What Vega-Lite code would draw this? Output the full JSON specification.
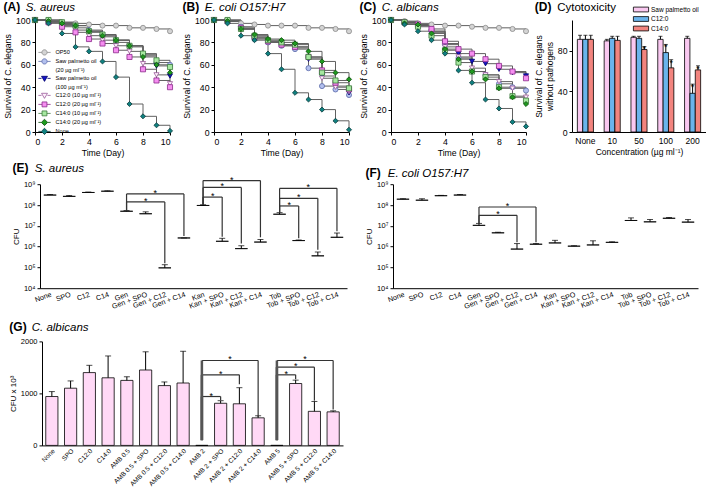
{
  "$schema": "https://vega.github.io/schema/vega-lite/v6.json",
  "padding": {"top": 1, "left": 0, "right": 0, "bottom": 16},
  "spacing": -3.8,
  "resolve": {
    "scale": {"x": "independent", "y": "independent", "fill": "independent", "stroke": "independent", "shape": "independent", "color": "independent", "xOffset": "independent"},
    "legend": {"fill": "independent", "stroke": "independent", "shape": "independent", "color": "independent"}
  },
  "config": {
    "view": {"stroke": null},
    "font": "Liberation Sans",
    "axis": {"domainColor": "#000", "tickColor": "#000", "labelColor": "#000", "titleColor": "#000", "grid": false, "labelFont": "Liberation Sans", "titleFont": "Liberation Sans", "titleFontWeight": "normal", "tickSize": 3, "labelPadding": 2, "titlePadding": 3, "domainWidth": 1, "tickWidth": 1},
    "legend": {"labelFont": "Liberation Sans", "labelColor": "#000"},
    "title": {"font": "Liberation Sans", "color": "#000", "anchor": "start", "frame": "bounds", "fontSize": 12, "fontWeight": "bold", "subtitleFont": "Liberation Sans", "subtitleColor": "#000", "subtitleFontSize": 11.5, "subtitleFontStyle": "italic", "subtitlePadding": -12, "offset": 1}
  },
  "datasets": {
    "surv": [
      {"p": "A", "s": "OP50", "d": [0,1,2,3,4,5,6,7,8,9,10], "v": [100,100,98,97,96,95,95,93,93,92,90]},
      {"p": "A", "s": "SPO20", "d": [0,1,2,3,4,5,6,7,8,9,10], "v": [100,99,97,95,91,87,82,77,69,62,60]},
      {"p": "A", "s": "SPO100", "d": [0,1,2,3,4,5,6,7,8,9,10], "v": [100,99,96,93,89,85,80,76,68,59,50]},
      {"p": "A", "s": "C12a", "d": [0,1,2,3,4,5,6,7,8,9,10], "v": [100,98,95,91,86,82,77,72,61,51,43]},
      {"p": "A", "s": "C12b", "d": [0,1,2,3,4,5,6,7,8,9,10], "v": [100,98,94,89,83,79,73,67,56,46,40]},
      {"p": "A", "s": "C14a", "d": [0,1,2,3,4,5,6,7,8,9,10], "v": [100,100,98,95,90,87,82,77,70,64,58]},
      {"p": "A", "s": "C14b", "d": [0,1,2,3,4,5,6,7,8,9,10], "v": [100,99,97,95,90,86,82,77,67,60,53]},
      {"p": "A", "s": "None", "d": [0,1,2,3,4,5,6,7,8,9,10], "v": [100,97,88,76,72,63,49,25,14,6,1]},
      {"p": "B", "s": "OP50", "d": [0,1,2,3,4,5,6,7,8,9,10], "v": [100,100,97,96,95,95,95,93,93,92,90]},
      {"p": "B", "s": "SPO20", "d": [0,1,2,3,4,5,6,7,8,9,10], "v": [100,99,94,83,80,77,74,57,41,38,33]},
      {"p": "B", "s": "SPO100", "d": [0,1,2,3,4,5,6,7,8,9,10], "v": [100,99,92,84,81,78,76,65,50,41,35]},
      {"p": "B", "s": "C12a", "d": [0,1,2,3,4,5,6,7,8,9,10], "v": [100,99,92,84,80,77,75,66,48,40,36]},
      {"p": "B", "s": "C12b", "d": [0,1,2,3,4,5,6,7,8,9,10], "v": [100,99,93,85,81,78,76,67,55,44,38]},
      {"p": "B", "s": "C14a", "d": [0,1,2,3,4,5,6,7,8,9,10], "v": [100,100,92,86,82,80,78,67,53,46,39]},
      {"p": "B", "s": "C14b", "d": [0,1,2,3,4,5,6,7,8,9,10], "v": [100,99,92,87,83,82,79,72,63,53,47]},
      {"p": "B", "s": "None", "d": [0,1,2,3,4,5,6,7,8,9,10], "v": [100,97,86,82,70,56,35,29,20,10,2]},
      {"p": "C", "s": "OP50", "d": [0,1,2,3,4,5,6,7,8,9,10], "v": [100,99,97,96,95,95,94,93,93,92,90]},
      {"p": "C", "s": "SPO20", "d": [0,1,2,3,4,5,6,7,8,9,10], "v": [100,98,95,90,78,66,54,51,43,40,37]},
      {"p": "C", "s": "SPO100", "d": [0,1,2,3,4,5,6,7,8,9,10], "v": [100,98,95,90,79,70,63,61,56,53,50]},
      {"p": "C", "s": "C12a", "d": [0,1,2,3,4,5,6,7,8,9,10], "v": [100,98,95,89,76,67,57,51,45,39,31]},
      {"p": "C", "s": "C12b", "d": [0,1,2,3,4,5,6,7,8,9,10], "v": [100,98,96,92,81,74,70,65,59,54,48]},
      {"p": "C", "s": "C14a", "d": [0,1,2,3,4,5,6,7,8,9,10], "v": [100,98,94,86,73,62,54,49,40,32,28]},
      {"p": "C", "s": "C14b", "d": [0,1,2,3,4,5,6,7,8,9,10], "v": [100,97,96,88,74,65,54,47,39,31,25]},
      {"p": "C", "s": "None", "d": [0,1,2,3,4,5,6,7,8,9,10], "v": [100,96,90,82,70,55,44,29,21,9,5]}
    ],
    "cyto": [
      {"c": "None", "s": "Saw palmetto oil", "v": 91, "hi": 95, "star": false},
      {"c": "None", "s": "C12:0", "v": 91, "hi": 95, "star": false},
      {"c": "None", "s": "C14:0", "v": 91, "hi": 95, "star": false},
      {"c": "10", "s": "Saw palmetto oil", "v": 89.5, "hi": 91, "star": false},
      {"c": "10", "s": "C12:0", "v": 92, "hi": 94, "star": false},
      {"c": "10", "s": "C14:0", "v": 90, "hi": 94, "star": false},
      {"c": "50", "s": "Saw palmetto oil", "v": 93, "hi": 94, "star": false},
      {"c": "50", "s": "C12:0", "v": 92, "hi": 94, "star": false},
      {"c": "50", "s": "C14:0", "v": 81, "hi": 84, "star": true},
      {"c": "100", "s": "Saw palmetto oil", "v": 91, "hi": 94, "star": false},
      {"c": "100", "s": "C12:0", "v": 78, "hi": 86, "star": true},
      {"c": "100", "s": "C14:0", "v": 63, "hi": 71, "star": true},
      {"c": "200", "s": "Saw palmetto oil", "v": 92, "hi": 94, "star": false},
      {"c": "200", "s": "C12:0", "v": 38, "hi": 47, "star": true},
      {"c": "200", "s": "C14:0", "v": 61, "hi": 65, "star": true}
    ],
    "E": [
      {"cat": "None", "v": 300000000, "hi": 320000000},
      {"cat": "SPO", "v": 260000000, "hi": 285000000},
      {"cat": "C12", "v": 400000000, "hi": 420000000},
      {"cat": "C14", "v": 460000000, "hi": 480000000},
      {"cat": "Gen", "v": 50000000, "hi": 54000000},
      {"cat": "Gen + SPO", "v": 38000000, "hi": 47000000},
      {"cat": "Gen + C12", "v": 95000, "hi": 135000},
      {"cat": "Gen + C14", "v": 2600000, "hi": 2600000},
      {"cat": "Kan", "v": 95000000, "hi": 103000000},
      {"cat": "Kan + SPO", "v": 1800000, "hi": 2500000},
      {"cat": "Kan + C12", "v": 800000, "hi": 1100000},
      {"cat": "Kan + C14", "v": 1650000, "hi": 2200000},
      {"cat": "Tob", "v": 36000000, "hi": 43000000},
      {"cat": "Tob + SPO", "v": 1950000, "hi": 2100000},
      {"cat": "Tob + C12", "v": 360000, "hi": 550000},
      {"cat": "Tob + C14", "v": 2800000, "hi": 4500000}
    ],
    "Eb": [
      {"from": "Gen", "to": "Gen + C12", "mid": "Gen + SPO", "half": 0, "h": 140000000, "b0": 54000000, "b1": 160000},
      {"from": "Gen", "to": "Gen + C14", "mid": "Gen + SPO", "half": 1, "h": 340000000, "b0": 54000000, "b1": 3200000},
      {"from": "Kan", "to": "Kan + SPO", "mid": "Kan", "half": 1, "h": 240000000, "b0": 103000000, "b1": 3000000},
      {"from": "Kan", "to": "Kan + C12", "mid": "Kan + SPO", "half": 0, "h": 700000000, "b0": 103000000, "b1": 1400000},
      {"from": "Kan", "to": "Kan + C14", "mid": "Kan + SPO", "half": 1, "h": 1500000000, "b0": 103000000, "b1": 2800000},
      {"from": "Tob", "to": "Tob + SPO", "mid": "Tob", "half": 1, "h": 90000000, "b0": 43000000, "b1": 2500000},
      {"from": "Tob", "to": "Tob + C12", "mid": "Tob + SPO", "half": 0, "h": 210000000, "b0": 43000000, "b1": 700000},
      {"from": "Tob", "to": "Tob + C14", "mid": "Tob + SPO", "half": 1, "h": 630000000, "b0": 43000000, "b1": 5500000}
    ],
    "F": [
      {"cat": "None", "v": 190000000, "hi": 200000000},
      {"cat": "SPO", "v": 170000000, "hi": 200000000},
      {"cat": "C12", "v": 280000000, "hi": 290000000},
      {"cat": "C14", "v": 300000000, "hi": 320000000},
      {"cat": "Gen", "v": 10500000, "hi": 13000000},
      {"cat": "Gen + SPO", "v": 4600000, "hi": 4900000},
      {"cat": "Gen + C12", "v": 760000, "hi": 1400000},
      {"cat": "Gen + C14", "v": 1300000, "hi": 1400000},
      {"cat": "Kan", "v": 1500000, "hi": 2000000},
      {"cat": "Kan + SPO", "v": 1050000, "hi": 1100000},
      {"cat": "Kan + C12", "v": 1200000, "hi": 1900000},
      {"cat": "Kan + C14", "v": 1600000, "hi": 1700000},
      {"cat": "Tob", "v": 18000000, "hi": 24000000},
      {"cat": "Tob + SPO", "v": 15500000, "hi": 20000000},
      {"cat": "Tob + C12", "v": 23000000, "hi": 25000000},
      {"cat": "Tob + C14", "v": 15000000, "hi": 20000000}
    ],
    "Fb": [
      {"from": "Gen", "to": "Gen + C12", "mid": "Gen + SPO", "half": 0, "h": 32000000, "b0": 13000000, "b1": 1600000},
      {"from": "Gen", "to": "Gen + C14", "mid": "Gen + SPO", "half": 1, "h": 80000000, "b0": 13000000, "b1": 1600000}
    ],
    "G": [
      {"cat": "None", "v": 940, "hi": 1035},
      {"cat": "SPO", "v": 1100, "hi": 1240},
      {"cat": "C12:0", "v": 1400, "hi": 1540},
      {"cat": "C14:0", "v": 1300, "hi": 1720},
      {"cat": "AMB 0.5", "v": 1250, "hi": 1320},
      {"cat": "AMB 0.5 + SPO", "v": 1450, "hi": 1800},
      {"cat": "AMB 0.5 + C12:0", "v": 1150, "hi": 1220},
      {"cat": "AMB 0.5 + C14:0", "v": 1200, "hi": 1810},
      {"cat": "AMB 2", "v": 0, "hi": 0},
      {"cat": "AMB 2 + SPO", "v": 810, "hi": 860},
      {"cat": "AMB 2 + C12:0", "v": 800, "hi": 1110},
      {"cat": "AMB 2 + C14:0", "v": 530, "hi": 570},
      {"cat": "AMB 5", "v": 0, "hi": 0},
      {"cat": "AMB 5 + SPO", "v": 1190, "hi": 1255},
      {"cat": "AMB 5 + C12:0", "v": 655, "hi": 845},
      {"cat": "AMB 5 + C14:0", "v": 645, "hi": 665}
    ],
    "Gb": [
      {"from": "AMB 2", "to": "AMB 2 + SPO", "mid": "AMB 2", "half": 1, "h": 940, "b0": 100, "b1": 875},
      {"from": "AMB 2", "to": "AMB 2 + C12:0", "mid": "AMB 2 + SPO", "half": 0, "h": 1357, "b0": 100, "b1": 1177},
      {"from": "AMB 2", "to": "AMB 2 + C14:0", "mid": "AMB 2 + SPO", "half": 1, "h": 1633, "b0": 100, "b1": 553},
      {"from": "AMB 5", "to": "AMB 5 + SPO", "mid": "AMB 5", "half": 1, "h": 1357, "b0": 100, "b1": 1273},
      {"from": "AMB 5", "to": "AMB 5 + C12:0", "mid": "AMB 5 + SPO", "half": 0, "h": 1505, "b0": 100, "b1": 860},
      {"from": "AMB 5", "to": "AMB 5 + C14:0", "mid": "AMB 5 + SPO", "half": 1, "h": 1633, "b0": 100, "b1": 690}
    ]
  },
  "vconcat": [
    {
      "spacing": 0, "bounds": "flush",
      "resolve": {"scale": {"x": "independent", "y": "independent", "fill": "independent", "stroke": "independent", "shape": "independent", "color": "independent", "xOffset": "independent"}, "legend": {"fill": "independent", "stroke": "independent", "shape": "independent", "color": "independent"}},
      "hconcat": [
        {"width": 35, "height": 144.2, "data": {"values": []}, "mark": "point"},
        {
          "width": 135, "height": 112,
          "title": {"text": "(A)", "subtitle": "\u200b\u00a0\u00a0\u00a0\u00a0\u00a0\u00a0\u00a0S. aureus"},
          "data": {"name": "surv"},
          "transform": [{"filter": "datum.p == 'A'"}, {"flatten": ["d", "v"]}],
          "encoding": {
            "x": {"field": "d", "type": "quantitative", "scale": {"domain": [0, 10], "nice": false}, "axis": {"values": [0, 2, 4, 6, 8, 10], "title": "Time (Day)", "labelFontSize": 8.7, "titleFontSize": 8.7}},
            "y": {"field": "v", "type": "quantitative", "scale": {"domain": [0, 100], "nice": false}, "axis": {"values": [0, 20, 40, 60, 80, 100], "title": "Survival of C. elegans", "labelFontSize": 8.7, "titleFontSize": 8.7}}
          },
          "resolve": {"scale": {"fill": "independent", "stroke": "independent", "shape": "independent"}, "legend": {"fill": "independent", "stroke": "independent", "shape": "independent"}},
          "layer": [
            {"mark": {"type": "line", "interpolate": "step-after", "color": "#606060", "strokeWidth": 1}, "encoding": {"detail": {"field": "s"}}},
            {"mark": {"type": "point", "filled": true, "size": 26, "strokeWidth": 0.8, "opacity": 1},
             "encoding": {
               "fill": {"field": "s", "type": "nominal", "scale": {"domain": ["OP50","SPO20","SPO100","C12a","C12b","C14a","C14b","None"], "range": ["#d4d4d4","#b3c0ee","#1414c8","#fdf0fb","#f58ef0","#a6e8a0","#1e9a1e","#0f8080"]}, "legend": null},
               "stroke": {"field": "s", "type": "nominal", "scale": {"domain": ["OP50","SPO20","SPO100","C12a","C12b","C14a","C14b","None"], "range": ["#8a8a8a","#5a6aa8","#00006a","#9a5a9a","#8a2a8a","#3b7a3b","#0a4a0a","#0a3a3a"]}, "legend": null},
               "shape": {"field": "s", "type": "nominal", "scale": {"domain": ["OP50","SPO20","SPO100","C12a","C12b","C14a","C14b","None"], "range": ["circle","circle","triangle-down","triangle-down","square","square","diamond","diamond"]}, "legend": null}
             }},
            {"transform": [{"filter": "false"}],
             "mark": {"type": "point", "filled": true, "strokeWidth": 0.8, "opacity": 1},
             "encoding": {
               "fill": {"field": "s", "type": "nominal",
                 "scale": {"domain": ["OP50","SPO20","SPO20b","SPO100","SPO100b","C12a","C12b","C14a","C14b","None"], "range": ["#d4d4d4","#b3c0ee","transparent","#1414c8","transparent","#fdf0fb","#f58ef0","#a6e8a0","#1e9a1e","#0f8080"]},
                 "legend": {"title": null, "orient": "none", "legendX": 5.5, "legendY": 28.4, "symbolSize": 49, "symbolStrokeWidth": 0.8, "labelFontSize": 5.6, "labelOffset": 7, "rowPadding": -3.1, "padding": 0,
                   "labelExpr": "{'OP50':'OP50','SPO20':'Saw palmetto oil','SPO20b':'(20 µg ml⁻¹)','SPO100':'Saw palmetto oil','SPO100b':'(100 µg ml⁻¹)','C12a':'C12:0 (10 µg ml⁻¹)','C12b':'C12:0 (20 µg ml⁻¹)','C14a':'C14:0 (10 µg ml⁻¹)','C14b':'C14:0 (20 µg ml⁻¹)','None':'None'}[datum.label]"}},
               "stroke": {"field": "s", "type": "nominal",
                 "scale": {"domain": ["OP50","SPO20","SPO20b","SPO100","SPO100b","C12a","C12b","C14a","C14b","None"], "range": ["#8a8a8a","#5a6aa8","transparent","#00006a","transparent","#9a5a9a","#8a2a8a","#3b7a3b","#0a4a0a","#0a3a3a"]},
                 "legend": {"title": null, "orient": "none", "legendX": 5.5, "legendY": 28.4, "symbolSize": 49, "symbolStrokeWidth": 0.8, "labelFontSize": 5.6, "labelOffset": 7, "rowPadding": -3.1, "padding": 0,
                   "labelExpr": "{'OP50':'OP50','SPO20':'Saw palmetto oil','SPO20b':'(20 µg ml⁻¹)','SPO100':'Saw palmetto oil','SPO100b':'(100 µg ml⁻¹)','C12a':'C12:0 (10 µg ml⁻¹)','C12b':'C12:0 (20 µg ml⁻¹)','C14a':'C14:0 (10 µg ml⁻¹)','C14b':'C14:0 (20 µg ml⁻¹)','None':'None'}[datum.label]"}},
               "shape": {"field": "s", "type": "nominal",
                 "scale": {"domain": ["OP50","SPO20","SPO20b","SPO100","SPO100b","C12a","C12b","C14a","C14b","None"], "range": [
                   "M-1.75,0H-0.75M0.75,0H1.75M0.75,0A0.75,0.75,0,1,1,-0.75,0A0.75,0.75,0,1,1,0.75,0Z",
                   "M-1.75,0H-0.75M0.75,0H1.75M0.75,0A0.75,0.75,0,1,1,-0.75,0A0.75,0.75,0,1,1,0.75,0Z",
                   "M0,0",
                   "M-1.75,0H-0.85M0.85,0H1.75M-0.85,-0.6L0.85,-0.6L0,0.85Z",
                   "M0,0",
                   "M-1.75,0H-0.85M0.85,0H1.75M-0.85,-0.6L0.85,-0.6L0,0.85Z",
                   "M-1.75,0H-0.7M0.7,0H1.75M-0.7,-0.7H0.7V0.7H-0.7Z",
                   "M-1.75,0H-0.7M0.7,0H1.75M-0.7,-0.7H0.7V0.7H-0.7Z",
                   "M-1.75,0H-0.9M0.9,0H1.75M0,-0.9L0.9,0L0,0.9L-0.9,0Z",
                   "M-1.75,0H-0.9M0.9,0H1.75M0,-0.9L0.9,0L0,0.9L-0.9,0Z"]},
                 "legend": {"title": null, "orient": "none", "legendX": 5.5, "legendY": 28.4, "symbolSize": 49, "symbolStrokeWidth": 0.8, "labelFontSize": 5.6, "labelOffset": 7, "rowPadding": -3.1, "padding": 0,
                   "labelExpr": "{'OP50':'OP50','SPO20':'Saw palmetto oil','SPO20b':'(20 µg ml⁻¹)','SPO100':'Saw palmetto oil','SPO100b':'(100 µg ml⁻¹)','C12a':'C12:0 (10 µg ml⁻¹)','C12b':'C12:0 (20 µg ml⁻¹)','C14a':'C14:0 (10 µg ml⁻¹)','C14b':'C14:0 (20 µg ml⁻¹)','None':'None'}[datum.label]"}}
             }}
          ]
        },
        {"width": 44, "height": 1, "data": {"values": []}, "mark": "point"},
        {
          "width": 135, "height": 112,
          "title": {"text": "(B)", "subtitle": "\u200b\u00a0\u00a0\u00a0\u00a0\u00a0\u00a0\u00a0E. coli O157:H7"},
          "data": {"name": "surv"},
          "transform": [{"filter": "datum.p == 'B'"}, {"flatten": ["d", "v"]}],
          "encoding": {
            "x": {"field": "d", "type": "quantitative", "scale": {"domain": [0, 10], "nice": false}, "axis": {"values": [0, 2, 4, 6, 8, 10], "title": "Time (Day)", "labelFontSize": 8.7, "titleFontSize": 8.7}},
            "y": {"field": "v", "type": "quantitative", "scale": {"domain": [0, 100], "nice": false}, "axis": {"values": [0, 20, 40, 60, 80, 100], "title": "Survival of C. elegans", "labelFontSize": 8.7, "titleFontSize": 8.7}}
          },
          "layer": [
            {"mark": {"type": "line", "interpolate": "step-after", "color": "#606060", "strokeWidth": 1}, "encoding": {"detail": {"field": "s"}}},
            {"mark": {"type": "point", "filled": true, "size": 26, "strokeWidth": 0.8, "opacity": 1},
             "encoding": {
               "fill": {"field": "s", "type": "nominal", "scale": {"domain": ["OP50","SPO20","SPO100","C12a","C12b","C14a","C14b","None"], "range": ["#d4d4d4","#b3c0ee","#1414c8","#fdf0fb","#f58ef0","#a6e8a0","#1e9a1e","#0f8080"]}, "legend": null},
               "stroke": {"field": "s", "type": "nominal", "scale": {"domain": ["OP50","SPO20","SPO100","C12a","C12b","C14a","C14b","None"], "range": ["#8a8a8a","#5a6aa8","#00006a","#9a5a9a","#8a2a8a","#3b7a3b","#0a4a0a","#0a3a3a"]}, "legend": null},
               "shape": {"field": "s", "type": "nominal", "scale": {"domain": ["OP50","SPO20","SPO100","C12a","C12b","C14a","C14b","None"], "range": ["circle","circle","triangle-down","triangle-down","square","square","diamond","diamond"]}, "legend": null}
             }}
          ]
        },
        {"width": 42, "height": 1, "data": {"values": []}, "mark": "point"},
        {
          "width": 135, "height": 112,
          "title": {"text": "(C)", "subtitle": "\u200b\u00a0\u00a0\u00a0\u00a0\u00a0\u00a0\u00a0C. albicans"},
          "data": {"name": "surv"},
          "transform": [{"filter": "datum.p == 'C'"}, {"flatten": ["d", "v"]}],
          "encoding": {
            "x": {"field": "d", "type": "quantitative", "scale": {"domain": [0, 10], "nice": false}, "axis": {"values": [0, 2, 4, 6, 8, 10], "title": "Time (Day)", "labelFontSize": 8.7, "titleFontSize": 8.7}},
            "y": {"field": "v", "type": "quantitative", "scale": {"domain": [0, 100], "nice": false}, "axis": {"values": [0, 20, 40, 60, 80, 100], "title": "Survival of C. elegans", "labelFontSize": 8.7, "titleFontSize": 8.7}}
          },
          "layer": [
            {"mark": {"type": "line", "interpolate": "step-after", "color": "#606060", "strokeWidth": 1}, "encoding": {"detail": {"field": "s"}}},
            {"mark": {"type": "point", "filled": true, "size": 26, "strokeWidth": 0.8, "opacity": 1},
             "encoding": {
               "fill": {"field": "s", "type": "nominal", "scale": {"domain": ["OP50","SPO20","SPO100","C12a","C12b","C14a","C14b","None"], "range": ["#d4d4d4","#b3c0ee","#1414c8","#fdf0fb","#f58ef0","#a6e8a0","#1e9a1e","#0f8080"]}, "legend": null},
               "stroke": {"field": "s", "type": "nominal", "scale": {"domain": ["OP50","SPO20","SPO100","C12a","C12b","C14a","C14b","None"], "range": ["#8a8a8a","#5a6aa8","#00006a","#9a5a9a","#8a2a8a","#3b7a3b","#0a4a0a","#0a3a3a"]}, "legend": null},
               "shape": {"field": "s", "type": "nominal", "scale": {"domain": ["OP50","SPO20","SPO100","C12a","C12b","C14a","C14b","None"], "range": ["circle","circle","triangle-down","triangle-down","square","square","diamond","diamond"]}, "legend": null}
             }}
          ]
        },
        {"width": 46, "height": 1, "data": {"values": []}, "mark": "point"},
        {
          "width": 134, "height": 112,
          "title": {"text": "(D)", "subtitle": "\u200b\u00a0\u00a0\u00a0\u00a0\u00a0\u00a0\u00a0Cytotoxicity", "subtitleFontStyle": "normal", "offset": -9.6},
          "data": {"name": "cyto"},
          "encoding": {
            "x": {"field": "c", "type": "nominal", "scale": {"domain": ["None", "10", "50", "100", "200"], "paddingInner": 0.4, "paddingOuter": 0.2}, "axis": {"title": "Concentration (µg ml⁻¹)", "labelAngle": 0, "ticks": false, "labelFontSize": 8.5, "titleFontSize": 8.5, "labelPadding": 4}},
            "xOffset": {"field": "s", "type": "nominal", "scale": {"domain": ["Saw palmetto oil", "C12:0", "C14:0"], "paddingInner": 0}}
          },
          "layer": [
            {"mark": {"type": "bar", "stroke": "#000", "strokeWidth": 0.8},
             "encoding": {
               "y": {"field": "v", "type": "quantitative", "scale": {"domain": [0, 110], "nice": false}, "axis": {"values": [0, 20, 40, 60, 80, 100], "title": ["Survival of C. elegans", "without pathogens"], "labelFontSize": 8.7, "titleFontSize": 8.5}},
               "fill": {"field": "s", "type": "nominal", "scale": {"domain": ["Saw palmetto oil", "C12:0", "C14:0"], "range": ["#f9c8f0", "#6ab4ec", "#f2847e"]},
                 "legend": {"title": null, "orient": "none", "legendX": 64.5, "legendY": -15, "symbolType": "M-1.9,-0.6H1.9V0.6H-1.9Z", "symbolSize": 64, "symbolStrokeColor": "#000", "symbolStrokeWidth": 0.8, "labelFontSize": 6.5, "labelOffset": 5.5, "rowPadding": 0.5, "padding": 0}}
             }},
            {"mark": {"type": "rule", "color": "#000", "strokeWidth": 1}, "encoding": {"y": {"field": "v", "type": "quantitative"}, "y2": {"field": "hi"}}},
            {"mark": {"type": "tick", "color": "#000", "thickness": 1, "size": 4}, "encoding": {"y": {"field": "hi", "type": "quantitative"}}},
            {"transform": [{"filter": "datum.star"}], "mark": {"type": "text", "text": "*", "fontSize": 9, "baseline": "alphabetic", "dy": 6, "color": "#000"}, "encoding": {"y": {"field": "hi", "type": "quantitative"}}}
          ]
        }
      ]
    },
    {
      "spacing": 0, "bounds": "flush",
      "resolve": {"scale": {"x": "independent", "y": "independent"}},
      "hconcat": [
        {"width": 40, "height": 139.2, "data": {"values": []}, "mark": "point"},
        {
          "width": 307, "height": 104,
          "title": {"text": "(E)", "subtitle": "\u200b\u00a0\u00a0\u00a0\u00a0\u00a0\u00a0\u00a0S. aureus", "offset": -0.15},
          "layer": [
            {"data": {"name": "E"}, "mark": {"type": "bar", "fill": "#a9a9f2", "stroke": "#000", "strokeWidth": 0.8},
             "encoding": {
               "x": {"field": "cat", "type": "nominal", "scale": {"domain": ["None","SPO","C12","C14","Gen","Gen + SPO","Gen + C12","Gen + C14","Kan","Kan + SPO","Kan + C12","Kan + C14","Tob","Tob + SPO","Tob + C12","Tob + C14"], "paddingInner": 0.35, "paddingOuter": 0.2}, "axis": {"title": null, "labelAngle": -20, "labelAlign": "right", "labelBaseline": "top", "ticks": false, "labelFontSize": 7.2, "labelPadding": 2}},
               "y": {"field": "v", "type": "quantitative", "scale": {"type": "log", "domain": [10000, 1000000000], "nice": false}, "axis": {"values": [10000, 100000, 1000000, 10000000, 100000000, 1000000000], "labelExpr": "'10' + ['⁰','¹','²','³','⁴','⁵','⁶','⁷','⁸','⁹'][round(log(datum.value)/LN10)]", "title": "CFU", "labelFontSize": 7.5, "titleFontSize": 8}}
             }},
            {"data": {"name": "E"}, "transform": [{"filter": "datum.hi > datum.v"}], "mark": {"type": "rule", "color": "#000"}, "encoding": {"x": {"field": "cat", "type": "nominal"}, "y": {"field": "v", "type": "quantitative"}, "y2": {"field": "hi"}}},
            {"data": {"name": "E"}, "mark": {"type": "tick", "color": "#000", "thickness": 1, "size": 6}, "encoding": {"x": {"field": "cat", "type": "nominal"}, "y": {"field": "hi", "type": "quantitative"}}},
            {"data": {"name": "Eb"}, "mark": {"type": "rule", "color": "#333", "strokeWidth": 1.2}, "encoding": {"x": {"field": "from", "type": "nominal"}, "x2": {"field": "to"}, "y": {"field": "h", "type": "quantitative"}}},
            {"data": {"name": "Eb"}, "mark": {"type": "rule", "color": "#333", "strokeWidth": 1.2}, "encoding": {"x": {"field": "from", "type": "nominal"}, "y": {"field": "b0", "type": "quantitative"}, "y2": {"field": "h"}}},
            {"data": {"name": "Eb"}, "mark": {"type": "rule", "color": "#333", "strokeWidth": 1.2}, "encoding": {"x": {"field": "to", "type": "nominal"}, "y": {"field": "b1", "type": "quantitative"}, "y2": {"field": "h"}}},
            {"data": {"name": "Eb"}, "transform": [{"filter": "datum.half == 0"}], "mark": {"type": "text", "text": "*", "fontSize": 9, "baseline": "alphabetic", "dy": 2, "color": "#000"}, "encoding": {"x": {"field": "mid", "type": "nominal"}, "y": {"field": "h", "type": "quantitative"}}},
            {"data": {"name": "Eb"}, "transform": [{"filter": "datum.half == 1"}], "mark": {"type": "text", "text": "*", "fontSize": 9, "baseline": "alphabetic", "dy": 2, "dx": 9.6, "color": "#000"}, "encoding": {"x": {"field": "mid", "type": "nominal"}, "y": {"field": "h", "type": "quantitative"}}}
          ]
        },
        {"width": 46, "height": 1, "data": {"values": []}, "mark": "point"},
        {
          "width": 305, "height": 104,
          "title": {"text": "(F)", "subtitle": "\u200b\u00a0\u00a0\u00a0\u00a0\u00a0\u00a0\u00a0E. coli O157:H7", "offset": -0.15},
          "layer": [
            {"data": {"name": "F"}, "mark": {"type": "bar", "fill": "#4cb81a", "stroke": "#000", "strokeWidth": 0.8},
             "encoding": {
               "x": {"field": "cat", "type": "nominal", "scale": {"domain": ["None","SPO","C12","C14","Gen","Gen + SPO","Gen + C12","Gen + C14","Kan","Kan + SPO","Kan + C12","Kan + C14","Tob","Tob + SPO","Tob + C12","Tob + C14"], "paddingInner": 0.35, "paddingOuter": 0.2}, "axis": {"title": null, "labelAngle": -20, "labelAlign": "right", "labelBaseline": "top", "ticks": false, "labelFontSize": 7.2, "labelPadding": 2}},
               "y": {"field": "v", "type": "quantitative", "scale": {"type": "log", "domain": [10000, 1000000000], "nice": false}, "axis": {"values": [10000, 100000, 1000000, 10000000, 100000000, 1000000000], "labelExpr": "'10' + ['⁰','¹','²','³','⁴','⁵','⁶','⁷','⁸','⁹'][round(log(datum.value)/LN10)]", "title": "CFU", "labelFontSize": 7.5, "titleFontSize": 8}}
             }},
            {"data": {"name": "F"}, "transform": [{"filter": "datum.hi > datum.v"}], "mark": {"type": "rule", "color": "#000"}, "encoding": {"x": {"field": "cat", "type": "nominal"}, "y": {"field": "v", "type": "quantitative"}, "y2": {"field": "hi"}}},
            {"data": {"name": "F"}, "mark": {"type": "tick", "color": "#000", "thickness": 1, "size": 6}, "encoding": {"x": {"field": "cat", "type": "nominal"}, "y": {"field": "hi", "type": "quantitative"}}},
            {"data": {"name": "Fb"}, "mark": {"type": "rule", "color": "#333", "strokeWidth": 1.2}, "encoding": {"x": {"field": "from", "type": "nominal"}, "x2": {"field": "to"}, "y": {"field": "h", "type": "quantitative"}}},
            {"data": {"name": "Fb"}, "mark": {"type": "rule", "color": "#333", "strokeWidth": 1.2}, "encoding": {"x": {"field": "from", "type": "nominal"}, "y": {"field": "b0", "type": "quantitative"}, "y2": {"field": "h"}}},
            {"data": {"name": "Fb"}, "mark": {"type": "rule", "color": "#333", "strokeWidth": 1.2}, "encoding": {"x": {"field": "to", "type": "nominal"}, "y": {"field": "b1", "type": "quantitative"}, "y2": {"field": "h"}}},
            {"data": {"name": "Fb"}, "transform": [{"filter": "datum.half == 0"}], "mark": {"type": "text", "text": "*", "fontSize": 9, "baseline": "alphabetic", "dy": 2, "color": "#000"}, "encoding": {"x": {"field": "mid", "type": "nominal"}, "y": {"field": "h", "type": "quantitative"}}},
            {"data": {"name": "Fb"}, "transform": [{"filter": "datum.half == 1"}], "mark": {"type": "text", "text": "*", "fontSize": 9, "baseline": "alphabetic", "dy": 2, "dx": 9.5, "color": "#000"}, "encoding": {"x": {"field": "mid", "type": "nominal"}, "y": {"field": "h", "type": "quantitative"}}}
          ]
        }
      ]
    },
    {
      "spacing": 0, "bounds": "flush",
      "resolve": {"scale": {"x": "independent", "y": "independent"}},
      "hconcat": [
        {"width": 42, "height": 1, "data": {"values": []}, "mark": "point"},
        {
          "width": 301, "height": 104,
          "title": {"text": "(G)", "subtitle": "\u200b\u00a0\u00a0\u00a0\u00a0\u00a0\u00a0\u00a0C. albicans", "offset": 2.85},
          "layer": [
            {"data": {"name": "G"}, "mark": {"type": "bar", "fill": "#ffd9f6", "stroke": "#000", "strokeWidth": 0.8},
             "encoding": {
               "x": {"field": "cat", "type": "nominal", "scale": {"domain": ["None","SPO","C12:0","C14:0","AMB 0.5","AMB 0.5 + SPO","AMB 0.5 + C12:0","AMB 0.5 + C14:0","AMB 2","AMB 2 + SPO","AMB 2 + C12:0","AMB 2 + C14:0","AMB 5","AMB 5 + SPO","AMB 5 + C12:0","AMB 5 + C14:0"], "paddingInner": 0.35, "paddingOuter": 0.2}, "axis": {"title": null, "labelAngle": -45, "labelAlign": "right", "labelBaseline": "top", "ticks": false, "labelFontSize": 6.5, "labelPadding": 2}},
               "y": {"field": "v", "type": "quantitative", "scale": {"domain": [0, 2000], "nice": false}, "axis": {"values": [0, 500, 1000, 1500, 2000], "format": "d", "title": "CFU x 10³", "labelFontSize": 7.5, "titleFontSize": 8}}
             }},
            {"data": {"name": "G"}, "transform": [{"filter": "datum.hi > datum.v"}], "mark": {"type": "rule", "color": "#000"}, "encoding": {"x": {"field": "cat", "type": "nominal"}, "y": {"field": "v", "type": "quantitative"}, "y2": {"field": "hi"}}},
            {"data": {"name": "G"}, "transform": [{"filter": "datum.hi > datum.v"}], "mark": {"type": "tick", "color": "#000", "thickness": 1, "size": 6}, "encoding": {"x": {"field": "cat", "type": "nominal"}, "y": {"field": "hi", "type": "quantitative"}}},
            {"data": {"name": "Gb"}, "mark": {"type": "rule", "color": "#333", "strokeWidth": 1.2}, "encoding": {"x": {"field": "from", "type": "nominal"}, "x2": {"field": "to"}, "y": {"field": "h", "type": "quantitative"}}},
            {"data": {"name": "Gb"}, "mark": {"type": "rule", "color": "#555", "strokeWidth": 2.5}, "encoding": {"x": {"field": "from", "type": "nominal"}, "y": {"field": "b0", "type": "quantitative"}, "y2": {"field": "h"}}},
            {"data": {"name": "Gb"}, "mark": {"type": "rule", "color": "#333", "strokeWidth": 1.2}, "encoding": {"x": {"field": "to", "type": "nominal"}, "y": {"field": "b1", "type": "quantitative"}, "y2": {"field": "h"}}},
            {"data": {"name": "Gb"}, "transform": [{"filter": "datum.half == 0"}], "mark": {"type": "text", "text": "*", "fontSize": 9, "baseline": "alphabetic", "dy": 2, "color": "#000"}, "encoding": {"x": {"field": "mid", "type": "nominal"}, "y": {"field": "h", "type": "quantitative"}}},
            {"data": {"name": "Gb"}, "transform": [{"filter": "datum.half == 1"}], "mark": {"type": "text", "text": "*", "fontSize": 9, "baseline": "alphabetic", "dy": 2, "dx": 9.4, "color": "#000"}, "encoding": {"x": {"field": "mid", "type": "nominal"}, "y": {"field": "h", "type": "quantitative"}}}
          ]
        }
      ]
    }
  ]
}
